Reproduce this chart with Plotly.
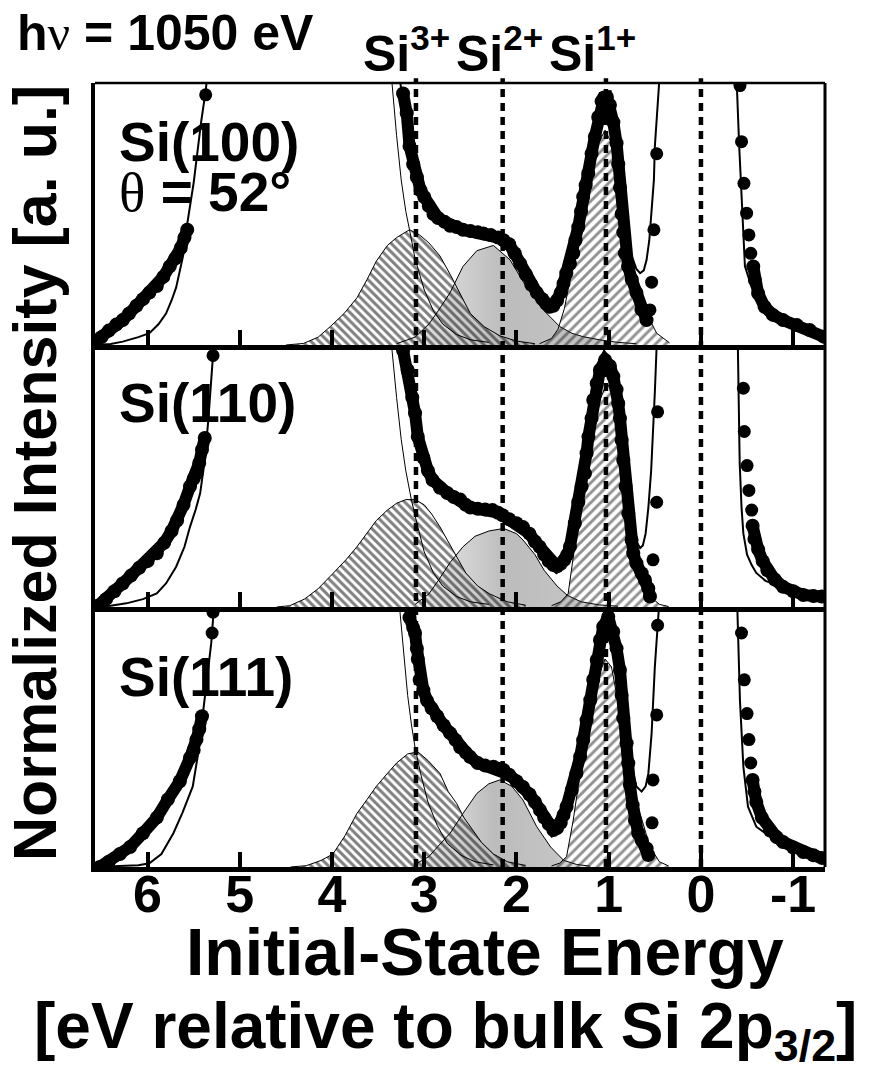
import plotly.graph_objects as go

# ---------------- axis / labels ----------------
X_RANGE = [6.57, -1.345]
TICK_VALS = [6, 5, 4, 3, 2, 1, 0, -1]
TICK_TEXT = ["6", "5", "4", "3", "2", "1", "0", "-1"]
DOTTED_E = [3.09, 2.15, 1.03, 0.0]
PANEL_LABELS = ["Si(100)", "Si(110)", "Si(111)"]
STATE_LABELS = ["3+", "2+", "1+"]

# ---------------- panel 1 : Si(100) ----------------
P1_DATA_E = [6.58, 6.50, 6.42, 6.34, 6.27, 6.20, 6.12, 6.05, 5.98, 5.90, 5.83, 5.76, 5.70, 5.64, 5.60, 5.57, None,
             3.23, 3.19, 3.16, 3.12, 3.08, 3.04, 3.00, 2.95, 2.90, 2.85, 2.78, 2.72, 2.65, 2.58, 2.50, 2.42, 2.36, 2.28,
             2.20, 2.14, 2.08, 2.02, 1.96, 1.90, 1.84, 1.78, 1.72, 1.68, 1.64, 1.60, 1.56, 1.52, 1.49, 1.46, 1.42,
             1.385, 1.36, 1.33, 1.30, 1.277, 1.25, 1.222, 1.186, 1.15, 1.114, 1.077, 1.05, 1.02, 0.987, 0.95, 0.915,
             0.897, 0.878, 0.86, 0.842, 0.824, 0.79, 0.75, 0.70, 0.645, 0.59, None,
             -0.567, -0.585, -0.62, -0.69, -0.78, -0.89, -1.04, -1.18, -1.33]
P1_DATA_I = [0.01, 0.03, 0.055, 0.078, 0.095, 0.12, 0.15, 0.175, 0.20, 0.225, 0.26, 0.30, 0.33, 0.37, 0.41, 0.44, None,
             0.96, 0.885, 0.76, 0.69, 0.64, 0.59, 0.565, 0.53, 0.50, 0.485, 0.47, 0.455, 0.45, 0.44, 0.435, 0.43, 0.426,
             0.42, 0.41, 0.40, 0.385, 0.35, 0.31, 0.27, 0.23, 0.20, 0.175, 0.158, 0.146, 0.15, 0.17, 0.20, 0.235,
             0.274, 0.31, 0.35, 0.40, 0.45, 0.51, 0.566, 0.61, 0.655, 0.73, 0.795, 0.87, 0.93, 0.945, 0.947, 0.916,
             0.85, 0.77, 0.69, 0.60, 0.50, 0.43, 0.35, 0.30, 0.25, 0.20, 0.135, 0.095, None,
             0.30, 0.248, 0.197, 0.146, 0.115, 0.095, 0.076, 0.057, 0.032]
P1_SPARSE_E = [5.37, 0.553, 0.535, 0.51, 0.48, -0.423, -0.44, -0.466, -0.495, -0.52, -0.54]
P1_SPARSE_I = [0.955, 0.134, 0.24, 0.44, 0.73, 0.99, 0.776, 0.617, 0.503, 0.42, 0.35]
P1_FIT_E = [6.57, 6.40, 6.27, 6.10, 5.98, 5.88, 5.80, 5.74, 5.69, 5.65, 5.615, 5.58, 5.50, 5.42, 5.37, 5.30, 5.0, 4.5,
            4.0, 3.6, 3.40, 3.30, 3.25, 3.20, 3.16, 3.12, 3.08, 3.00, 2.90, 2.80, 2.70, 2.60, 2.50, 2.40, 2.30, 2.20,
            2.10, 2.00, 1.90, 1.80, 1.70, 1.64, 1.58, 1.50, 1.44, 1.38, 1.32, 1.26, 1.20, 1.14, 1.08, 1.04, 1.00,
            0.95, 0.91, 0.86, 0.81, 0.76, 0.70, 0.66, 0.62, 0.59, 0.56, 0.535, 0.51, 0.50, 0.48, 0.463, 0.44, 0.3,
            0.0, -0.3, -0.37, -0.387, -0.415, -0.45, -0.477, -0.55, -0.71, -0.89, -1.05, -1.2, -1.345]
P1_FIT_I = [0.0, 0.004, 0.013, 0.03, 0.045, 0.08, 0.12, 0.17, 0.22, 0.28, 0.34, 0.44, 0.62, 0.85, 0.97, 1.2, 1.6, 1.6,
            1.6, 1.6, 1.3, 1.08, 0.97, 0.87, 0.78, 0.70, 0.64, 0.56, 0.50, 0.47, 0.455, 0.445, 0.44, 0.433, 0.424,
            0.41, 0.38, 0.335, 0.27, 0.21, 0.165, 0.15, 0.155, 0.21, 0.29, 0.38, 0.48, 0.59, 0.70, 0.80, 0.88, 0.90,
            0.87, 0.79, 0.69, 0.55, 0.44, 0.35, 0.29, 0.274, 0.285, 0.324, 0.40, 0.50, 0.63, 0.757, 0.88, 1.01, 1.3,
            1.8, 1.8, 1.8, 1.3, 1.01, 0.757, 0.503, 0.30, 0.22, 0.146, 0.095, 0.07, 0.05, 0.03]
P1_SI4_E = [3.40, 3.355, 3.30, 3.25, 3.20, 3.16, 3.10, 3.00, 2.90, 2.80, 2.65, 2.50, 2.30]
P1_SI4_I = [1.2, 1.01, 0.80, 0.63, 0.51, 0.44, 0.33, 0.21, 0.13, 0.08, 0.04, 0.02, 0.01]
P1_SI3_E = [4.5, 4.31, 4.15, 4.02, 3.87, 3.73, 3.62, 3.52, 3.40, 3.30, 3.16, 3.05, 2.95, 2.83, 2.72, 2.62, 2.50, 2.35,
            2.18, 2.0, 1.8]
P1_SI3_I = [0.0, 0.006, 0.03, 0.07, 0.12, 0.18, 0.25, 0.32, 0.38, 0.41, 0.44, 0.42, 0.39, 0.34, 0.27, 0.20, 0.12, 0.07,
            0.035, 0.015, 0.005]
P1_SI2_E = [3.3, 3.1, 2.95, 2.85, 2.72, 2.58, 2.43, 2.25, 2.07, 1.89, 1.71, 1.53, 1.40, 1.28, 1.1, 0.9, 0.7]
P1_SI2_I = [0.005, 0.03, 0.08, 0.13, 0.20, 0.30, 0.36, 0.38, 0.325, 0.22, 0.134, 0.07, 0.045, 0.032, 0.02, 0.01, 0.005]
P1_SI1_E = [1.75, 1.62, 1.55, 1.48, 1.42, 1.35, 1.24, 1.13, 1.04, 0.95, 0.88, 0.81, 0.70, 0.59, 0.48, 0.34]
P1_SI1_I = [0.005, 0.025, 0.06, 0.14, 0.248, 0.375, 0.59, 0.757, 0.82, 0.757, 0.59, 0.41, 0.248, 0.12, 0.045, 0.008]

# ---------------- panel 2 : Si(110) ----------------
P2_DATA_E = [6.54, 6.45, 6.36, 6.27, 6.18, 6.09, 6.00, 5.90, 5.82, 5.74, 5.68, 5.61, 5.54, 5.50, 5.47, 5.44, 5.41, 5.38,
             None,
             3.23, 3.18, 3.13, 3.10, 3.07, 3.01, 2.96, 2.91, 2.83, 2.75, 2.68, 2.61, 2.55, 2.50, 2.42, 2.34, 2.26, 2.20,
             2.15, 2.08, 2.00, 1.93, 1.86, 1.80, 1.75, 1.70, 1.65, 1.60, 1.56, 1.52, 1.48, 1.45, 1.42, 1.367, 1.33,
             1.294, 1.258, 1.24, 1.22, 1.186, 1.168, 1.13, 1.095, 1.04, 0.987, 0.95, 0.915, 0.897, 0.878, 0.86, 0.842,
             0.817, 0.788, 0.752, 0.734, 0.70, 0.643, 0.607, 0.571, 0.553, None,
             -0.56, -0.58, -0.62, -0.67, -0.72, -0.80, -0.89, -1.0, -1.11, -1.22, -1.31]
P2_DATA_I = [0.005, 0.03, 0.06, 0.09, 0.12, 0.15, 0.175, 0.205, 0.245, 0.29, 0.33, 0.39, 0.46, 0.49, 0.51, 0.55, 0.60,
             0.645, None,
             0.98, 0.905, 0.80, 0.74, 0.65, 0.57, 0.52, 0.485, 0.455, 0.435, 0.42, 0.41, 0.39, 0.38, 0.375, 0.372, 0.37,
             0.36, 0.35, 0.335, 0.32, 0.305, 0.28, 0.25, 0.23, 0.20, 0.175, 0.16, 0.155, 0.165, 0.18, 0.20, 0.23, 0.32,
             0.40, 0.46, 0.51, 0.587, 0.65, 0.72, 0.79, 0.853, 0.905, 0.943, 0.92, 0.88, 0.83, 0.777, 0.72, 0.637,
             0.56, 0.46, 0.357, 0.256, 0.205, 0.167, 0.129, 0.103, 0.071, 0.04, None,
             0.31, 0.26, 0.22, 0.175, 0.14, 0.105, 0.077, 0.06, 0.046, 0.042, 0.04]
P2_SPARSE_E = [5.29, 0.52, 0.48, 0.47, -0.46, -0.47, -0.50, -0.52, -0.55]
P2_SPARSE_I = [0.96, 0.18, 0.40, 0.745, 0.835, 0.67, 0.54, 0.445, 0.37]
P2_FIT_E = [6.57, 6.40, 6.23, 6.05, 5.90, 5.80, 5.69, 5.60, 5.54, 5.48, 5.43, 5.38, 5.34, 5.30, 5.27, 5.2, 4.5, 4.0,
            3.6, 3.40, 3.30, 3.25, 3.20, 3.15, 3.10, 3.05, 3.00, 2.90, 2.80, 2.70, 2.60, 2.50, 2.40, 2.30, 2.20, 2.10,
            2.00, 1.90, 1.80, 1.70, 1.60, 1.54, 1.48, 1.42, 1.36, 1.30, 1.24, 1.18, 1.12, 1.06, 1.02, 0.98, 0.94,
            0.90, 0.86, 0.82, 0.78, 0.74, 0.70, 0.66, 0.63, 0.60, 0.57, 0.54, 0.52, 0.50, 0.48, 0.46, 0.3, 0.0, -0.3,
            -0.38, -0.40, -0.42, -0.44, -0.46, -0.50, -0.55, -0.60, -0.70, -0.89, -1.05, -1.2, -1.345]
P2_FIT_I = [0.0, 0.005, 0.014, 0.03, 0.052, 0.09, 0.154, 0.23, 0.306, 0.37, 0.434, 0.56, 0.72, 0.90, 1.05, 1.4, 1.6,
            1.6, 1.6, 1.3, 1.1, 1.0, 0.93, 0.84, 0.74, 0.63, 0.56, 0.48, 0.445, 0.425, 0.405, 0.38, 0.373, 0.37, 0.36,
            0.34, 0.32, 0.29, 0.25, 0.20, 0.165, 0.16, 0.18, 0.23, 0.33, 0.44, 0.56, 0.70, 0.84, 0.92, 0.93, 0.90,
            0.84, 0.74, 0.62, 0.49, 0.38, 0.30, 0.25, 0.225, 0.235, 0.28, 0.38, 0.52, 0.66, 0.82, 1.0, 1.3, 1.8, 1.8,
            1.8, 1.3, 1.0, 0.55, 0.38, 0.28, 0.20, 0.16, 0.13, 0.10, 0.077, 0.055, 0.045, 0.04]
P2_SI4_E = [3.40, 3.355, 3.30, 3.25, 3.20, 3.14, 3.08, 3.00, 2.90, 2.80, 2.65, 2.50, 2.30]
P2_SI4_I = [1.2, 1.0, 0.80, 0.64, 0.52, 0.41, 0.32, 0.21, 0.13, 0.08, 0.04, 0.02, 0.01]
P2_SI3_E = [4.6, 4.46, 4.3, 4.15, 3.99, 3.85, 3.73, 3.62, 3.52, 3.40, 3.30, 3.20, 3.10, 3.00, 2.92, 2.83, 2.74, 2.65,
            2.55, 2.42, 2.29, 2.1, 1.9]
P2_SI3_I = [0.0, 0.005, 0.03, 0.07, 0.128, 0.18, 0.23, 0.28, 0.33, 0.37, 0.396, 0.41, 0.41, 0.39, 0.355, 0.306, 0.25,
            0.19, 0.13, 0.08, 0.05, 0.02, 0.007]
P2_SI2_E = [3.1, 2.95, 2.85, 2.72, 2.58, 2.45, 2.30, 2.14, 2.00, 1.93, 1.80, 1.70, 1.56, 1.45, 1.3, 1.1, 0.9]
P2_SI2_I = [0.01, 0.05, 0.10, 0.17, 0.23, 0.27, 0.29, 0.30, 0.28, 0.256, 0.20, 0.14, 0.08, 0.045, 0.02, 0.008, 0.003]
P2_SI1_E = [1.62, 1.52, 1.44, 1.385, 1.31, 1.20, 1.095, 1.02, 0.96, 0.915, 0.81, 0.70, 0.625, 0.55, 0.45, 0.35]
P2_SI1_I = [0.005, 0.02, 0.05, 0.19, 0.41, 0.61, 0.79, 0.855, 0.82, 0.76, 0.51, 0.256, 0.10, 0.04, 0.01, 0.002]

# ---------------- panel 3 : Si(111) ----------------
P3_DATA_E = [6.52, 6.42, 6.30, 6.19, 6.05, 5.90, 5.78, 5.65, 5.54, 5.50, 5.47, 5.44, 5.41, None,
             3.16, 3.12, 3.10, 3.08, 3.07, 3.05, 3.01, 2.97, 2.92, 2.86, 2.79, 2.72, 2.66, 2.61, 2.55, 2.505, 2.42,
             2.34, 2.25, 2.20, 2.14, 2.08, 2.00, 1.93, 1.86, 1.80, 1.746, 1.70, 1.65, 1.60, 1.56, 1.52, 1.49, 1.457,
             1.40, 1.35, 1.31, 1.277, 1.24, 1.20, 1.168, 1.13, 1.095, 1.06, 1.005, 0.951, 0.915, 0.878, 0.86, 0.842,
             0.806, 0.788, 0.77, 0.741, 0.716, 0.68, 0.643, 0.589, 0.571, None,
             -0.56, -0.58, -0.60, -0.66, -0.75, -0.82, -0.89, -1.0, -1.11, -1.22, -1.31]
P3_DATA_I = [0.0, 0.02, 0.05, 0.077, 0.13, 0.19, 0.26, 0.33, 0.42, 0.45, 0.49, 0.53, 0.58, None,
             0.96, 0.92, 0.90, 0.84, 0.80, 0.72, 0.68, 0.64, 0.61, 0.58, 0.545, 0.515, 0.488, 0.46, 0.44, 0.424, 0.40,
             0.39, 0.386, 0.378, 0.373, 0.355, 0.33, 0.308, 0.28, 0.25, 0.219, 0.19, 0.165, 0.142, 0.15, 0.17, 0.20,
             0.232, 0.296, 0.36, 0.424, 0.488, 0.565, 0.642, 0.72, 0.796, 0.873, 0.924, 0.963, 0.905, 0.841, 0.758,
             0.662, 0.572, 0.476, 0.399, 0.315, 0.238, 0.181, 0.13, 0.103, 0.071, 0.046, None,
             0.335, 0.29, 0.25, 0.19, 0.14, 0.115, 0.096, 0.075, 0.058, 0.045, 0.035]
P3_SPARSE_E = [5.30, 5.29, 0.53, 0.52, 0.48, 0.47, -0.44, -0.47, -0.50, -0.52, -0.54]
P3_SPARSE_I = [0.90, 0.98, 0.17, 0.335, 0.585, 0.93, 0.90, 0.72, 0.59, 0.49, 0.40]
P3_FIT_E = [6.57, 6.30, 6.10, 5.98, 5.85, 5.72, 5.62, 5.51, 5.45, 5.40, 5.35, 5.31, 5.28, 5.22, 4.5, 3.8, 3.32, 3.25,
            3.20, 3.15, 3.10, 3.06, 3.02, 2.97, 2.90, 2.80, 2.72, 2.60, 2.50, 2.40, 2.30, 2.20, 2.10, 2.00, 1.90, 1.80,
            1.70, 1.62, 1.56, 1.50, 1.44, 1.38, 1.32, 1.26, 1.20, 1.14, 1.08, 1.03, 0.99, 0.95, 0.878, 0.77, 0.70,
            0.643, 0.60, 0.57, 0.535, 0.50, 0.463, 0.44, 0.3, 0.0, -0.3, -0.37, -0.394, -0.423, -0.46, -0.51, -0.60,
            -0.75, -0.89, -1.05, -1.2, -1.345]
P3_FIT_I = [0.0, 0.003, 0.007, 0.014, 0.05, 0.13, 0.21, 0.31, 0.44, 0.59, 0.74, 0.86, 1.0, 1.3, 1.6, 1.6, 1.3, 1.05,
            0.98, 0.92, 0.86, 0.76, 0.69, 0.64, 0.60, 0.54, 0.515, 0.46, 0.42, 0.40, 0.388, 0.378, 0.355, 0.33, 0.295,
            0.25, 0.19, 0.15, 0.15, 0.19, 0.25, 0.33, 0.42, 0.53, 0.64, 0.76, 0.86, 0.88, 0.87, 0.835, 0.64, 0.424,
            0.31, 0.29, 0.31, 0.36, 0.514, 0.77, 0.99, 1.3, 1.8, 1.8, 1.8, 1.3, 0.99, 0.64, 0.385, 0.232, 0.155,
            0.117, 0.097, 0.07, 0.05, 0.035]
P3_SI4_E = [3.32, 3.265, 3.22, 3.18, 3.14, 3.10, 3.04, 2.96, 2.86, 2.75, 2.6, 2.45, 2.25]
P3_SI4_I = [1.2, 0.99, 0.81, 0.66, 0.55, 0.46, 0.36, 0.25, 0.16, 0.09, 0.045, 0.02, 0.008]
P3_SI3_E = [4.45, 4.28, 4.12, 3.99, 3.86, 3.73, 3.62, 3.52, 3.40, 3.30, 3.18, 3.07, 2.96, 2.83, 2.74, 2.65, 2.57, 2.50,
            2.38, 2.25, 2.1, 1.9]
P3_SI3_I = [0.0, 0.005, 0.025, 0.05, 0.12, 0.206, 0.26, 0.31, 0.36, 0.40, 0.435, 0.443, 0.41, 0.36, 0.29, 0.245, 0.19,
            0.155, 0.095, 0.05, 0.02, 0.006]
P3_SI2_E = [3.1, 2.95, 2.85, 2.72, 2.58, 2.43, 2.30, 2.18, 2.05, 1.93, 1.78, 1.63, 1.49, 1.35, 1.2]
P3_SI2_I = [0.01, 0.04, 0.08, 0.13, 0.206, 0.283, 0.32, 0.335, 0.31, 0.258, 0.155, 0.077, 0.026, 0.01, 0.003]
P3_SI1_E = [1.62, 1.53, 1.457, 1.385, 1.31, 1.20, 1.114, 1.04, 0.97, 0.878, 0.77, 0.66, 0.553, 0.45, 0.35]
P3_SI1_I = [0.004, 0.015, 0.04, 0.18, 0.36, 0.578, 0.73, 0.80, 0.77, 0.60, 0.385, 0.206, 0.077, 0.02, 0.004]

PANELS = [
    dict(data=(P1_DATA_E, P1_DATA_I), sparse=(P1_SPARSE_E, P1_SPARSE_I), fit=(P1_FIT_E, P1_FIT_I),
         si4=(P1_SI4_E, P1_SI4_I), si3=(P1_SI3_E, P1_SI3_I), si2=(P1_SI2_E, P1_SI2_I), si1=(P1_SI1_E, P1_SI1_I)),
    dict(data=(P2_DATA_E, P2_DATA_I), sparse=(P2_SPARSE_E, P2_SPARSE_I), fit=(P2_FIT_E, P2_FIT_I),
         si4=(P2_SI4_E, P2_SI4_I), si3=(P2_SI3_E, P2_SI3_I), si2=(P2_SI2_E, P2_SI2_I), si1=(P2_SI1_E, P2_SI1_I)),
    dict(data=(P3_DATA_E, P3_DATA_I), sparse=(P3_SPARSE_E, P3_SPARSE_I), fit=(P3_FIT_E, P3_FIT_I),
         si4=(P3_SI4_E, P3_SI4_I), si3=(P3_SI3_E, P3_SI3_I), si2=(P3_SI2_E, P3_SI2_I), si1=(P3_SI1_E, P3_SI1_I)),
]

SANS = "Liberation Sans, Arial, Helvetica, sans-serif"
SERIF = "Liberation Serif, Times New Roman, serif"

W, H = 877, 1069
ML, MR, MT, MB = 95, 52, 83, 202
DOMAINS = [[0.6658, 1.0], [0.3316, 0.6658], [0.0, 0.3316]]

fig = go.Figure()

for i, p in enumerate(PANELS):
    xa = "x" if i == 0 else "x%d" % (i + 1)
    ya = "y" if i == 0 else "y%d" % (i + 1)
    # Si2+ grey gradient component
    fig.add_trace(go.Scatter(
        x=p["si2"][0], y=p["si2"][1], xaxis=xa, yaxis=ya, mode="lines", fill="tozeroy",
        line=dict(color="black", width=1),
        fillgradient=dict(type="horizontal",
                          colorscale=[[0, "#eeeeee"], [0.45, "#bcbcbc"], [0.8, "#c4c4c4"], [1, "#eeeeee"]]),
        showlegend=False, hoverinfo="skip"))
    # Si3+ hatched component
    fig.add_trace(go.Scatter(
        x=p["si3"][0], y=p["si3"][1], xaxis=xa, yaxis=ya, mode="lines", fill="tozeroy",
        line=dict(color="black", width=1), fillcolor="rgba(0,0,0,0)",
        fillpattern=dict(shape="\\", size=6, solidity=0.5, fgcolor="black", bgcolor="rgba(0,0,0,0)"),
        showlegend=False, hoverinfo="skip"))
    # Si1+ hatched component
    fig.add_trace(go.Scatter(
        x=p["si1"][0], y=p["si1"][1], xaxis=xa, yaxis=ya, mode="lines", fill="tozeroy",
        line=dict(color="black", width=1), fillcolor="rgba(0,0,0,0)",
        fillpattern=dict(shape="/", size=7, solidity=0.42, fgcolor="#222222", bgcolor="rgba(0,0,0,0)"),
        showlegend=False, hoverinfo="skip"))
    # Si4+ tail
    fig.add_trace(go.Scatter(
        x=p["si4"][0], y=p["si4"][1], xaxis=xa, yaxis=ya, mode="lines",
        line=dict(color="black", width=1), showlegend=False, hoverinfo="skip"))
    # total fit
    fig.add_trace(go.Scatter(
        x=p["fit"][0], y=p["fit"][1], xaxis=xa, yaxis=ya, mode="lines",
        line=dict(color="black", width=2), showlegend=False, hoverinfo="skip"))
    # measured data (dense)
    fig.add_trace(go.Scatter(
        x=p["data"][0], y=p["data"][1], xaxis=xa, yaxis=ya, mode="lines+markers",
        line=dict(color="black", width=12), marker=dict(color="black", size=14),
        connectgaps=False, showlegend=False, hoverinfo="skip"))
    # measured data (isolated points)
    fig.add_trace(go.Scatter(
        x=p["sparse"][0], y=p["sparse"][1], xaxis=xa, yaxis=ya, mode="markers",
        marker=dict(color="black", size=13), showlegend=False, hoverinfo="skip"))

layout = dict(
    width=W, height=H, margin=dict(l=ML, r=MR, t=MT, b=MB, pad=0),
    paper_bgcolor="white", plot_bgcolor="white", showlegend=False,
)
for i in range(3):
    xk = "xaxis" if i == 0 else "xaxis%d" % (i + 1)
    yk = "yaxis" if i == 0 else "yaxis%d" % (i + 1)
    ya = "y" if i == 0 else "y%d" % (i + 1)
    layout[xk] = dict(range=X_RANGE, domain=[0, 1], anchor=ya, tickmode="array", tickvals=TICK_VALS,
                      ticktext=["<b>%s</b>" % t for t in TICK_TEXT], ticks="inside", ticklen=15, tickwidth=4,
                      tickcolor="black", showline=True, linewidth=5, linecolor="black", showgrid=False,
                      zeroline=False, showticklabels=(i == 2), ticklabelstandoff=-22,
                      tickfont=dict(family=SANS, size=52, color="black"))
    layout[yk] = dict(range=[0, 1], domain=DOMAINS[i], anchor="x" if i == 0 else "x%d" % (i + 1),
                      showticklabels=False, ticks="", showline=True, linewidth=4, linecolor="black",
                      showgrid=False, zeroline=False)
fig.update_layout(**layout)


def px_to_xp(px):
    return (px - ML) / (W - ML - MR)


def py_to_yp(py):
    return (H - MB - py) / (H - MT - MB)


shapes = []
for e in DOTTED_E:
    shapes.append(dict(type="line", xref="x3", yref="paper", x0=e, x1=e, y0=0, y1=1.006,
                       line=dict(color="black", width=4.5, dash="8px,6px"), layer="above"))
shapes.append(dict(type="line", xref="paper", yref="paper", x0=0, x1=1, y0=1, y1=1,
                   line=dict(color="black", width=2.5)))
shapes.append(dict(type="line", xref="paper", yref="paper", x0=1, x1=1, y0=0, y1=1,
                   line=dict(color="black", width=3)))
fig.update_layout(shapes=shapes)

ann = []
# photon energy
ann.append(dict(xref="paper", yref="paper", x=px_to_xp(15), y=py_to_yp(33), xanchor="left", yanchor="middle",
                text="<b>h</b><span style='font-family:Liberation Serif, serif'>ν</span><b> = 1050 eV</b>",
                showarrow=False, font=dict(family=SANS, size=50, color="black")))
# oxidation state labels
for lab, px in zip(STATE_LABELS, [361, 454, 547]):
    ann.append(dict(xref="paper", yref="paper", x=px_to_xp(px), y=py_to_yp(84), xanchor="left", yanchor="bottom",
                    text="<b>Si<sup>%s</sup></b>" % lab, showarrow=False,
                    font=dict(family=SANS, size=50, color="black")))
# panel labels
for lab, py in zip(PANEL_LABELS, [142, 403, 677]):
    ann.append(dict(xref="paper", yref="paper", x=px_to_xp(117), y=py_to_yp(py), xanchor="left", yanchor="middle",
                    text="<b>%s</b>" % lab, showarrow=False, font=dict(family=SANS, size=55, color="black")))
ann.append(dict(xref="paper", yref="paper", x=px_to_xp(117), y=py_to_yp(192), xanchor="left", yanchor="middle",
                text="<span style='font-family:Liberation Serif, serif'>θ</span><b> = 52°</b>",
                showarrow=False, font=dict(family=SANS, size=55, color="black")))
# y title
ann.append(dict(xref="paper", yref="paper", x=px_to_xp(35), y=py_to_yp(473), xanchor="center", yanchor="middle",
                text="<b>Normalized Intensity [a. u.]</b>", textangle=-90, showarrow=False,
                font=dict(family=SANS, size=61, color="black")))
# x title
ann.append(dict(xref="paper", yref="paper", x=px_to_xp(485), y=py_to_yp(952), xanchor="center", yanchor="middle",
                text="<b>Initial-State Energy</b>", showarrow=False,
                font=dict(family=SANS, size=66, color="black")))
ann.append(dict(xref="paper", yref="paper", x=px_to_xp(445), y=py_to_yp(1030), xanchor="center", yanchor="middle",
                text="<b>[eV relative to bulk Si 2p<sub>3/2</sub>]</b>", showarrow=False,
                font=dict(family=SANS, size=64, color="black")))
fig.update_layout(annotations=ann)

fig.write_html("out.html")
